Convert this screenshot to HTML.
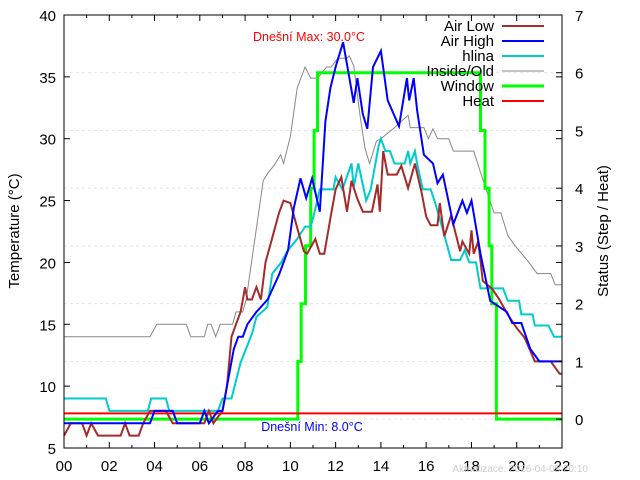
<!DOCTYPE html>
<html><head><meta charset="utf-8"><style>
body{margin:0;background:#fff}
svg{display:block;font-family:"Liberation Sans",sans-serif}
</style></head><body>
<svg id="chart" width="640" height="480" viewBox="0 0 640 480" xmlns="http://www.w3.org/2000/svg">
<rect width="640" height="480" fill="#fff"/>
<g id="grid"></g><g id="series"></g><g id="axes"></g><g id="legend"></g>
</svg>
<script>
// Data (hours, values)
const airLowT = [0,0.3,0.8,1.0,1.2,1.5,2.5,2.7,2.9,3.3,3.5,3.8,4.5,4.8,6.2,6.4,6.6,7.0,7.2,7.4,7.6,7.8,8.0,8.1,8.3,8.5,8.7,8.9,9.2,9.5,9.7,10.0,10.3,10.6,10.74,11.1,11.3,11.5,11.8,12.0,12.25,12.5,12.7,12.95,13.2,13.6,13.85,13.95,14.1,14.3,14.7,14.9,15.2,15.5,15.8,16.0,16.2,16.5,16.6,16.8,17.1,17.5,17.6,17.9,18.0,18.1,18.3,18.5,18.9,19.2,19.6,20.0,20.35,20.8,21.5,21.9,22];
const airLowV = [6,7,7,6,7,6,6,7,6,6,7,8,8,7,7,8,7,8,10,14,15,16,18,17,17,18,17,20,22,24,25,24.8,22.8,20.9,20.7,21.9,20.7,20.7,23.9,25.9,26.9,24.1,26.6,25.2,24.1,24.1,26.3,24.1,29,27.1,27.1,27.8,26,28,25.6,23.7,23,23,24.8,22.1,23.8,20.9,21.7,20.7,22.6,20.7,21.7,18.5,17.9,17.1,15.8,14.7,13.9,12,12,11,11];
const airHighT = [0,3.8,4.0,4.8,5.0,6.0,6.2,6.4,6.8,7.0,7.2,7.5,7.7,7.9,8.1,8.5,9.0,9.5,9.9,10.15,10.45,10.7,10.96,11.3,11.55,11.77,12.0,12.33,12.6,12.8,12.96,13.2,13.4,13.65,14.0,14.3,14.8,15.15,15.25,15.45,15.6,15.9,16.3,16.5,16.74,17.2,17.6,17.8,18.0,18.4,18.83,19.56,19.8,20.2,20.6,21.0,21.3,22];
const airHighV = [7,7,8,8,7,7,8,7,8,8,10,13,14,14,15,16,17,19,21,24.4,26.8,25.2,26.8,24.1,31.4,34.1,35.8,37.8,35,32.9,34.9,32,30.8,35.8,37.1,33.1,31,34.9,33.1,34.9,32.3,28.7,28,26.4,27.1,23.1,25,24,25,20.7,16.9,16,15.1,15.1,13,12,12,12];
const hlinaT = [0,1.85,2.0,3.7,3.85,4.5,4.65,6.8,7.0,7.4,7.8,8.32,8.5,8.98,9.2,9.6,9.86,10.3,10.65,10.9,11.05,11.3,11.9,12.0,12.3,12.7,12.8,13.0,13.35,13.55,13.9,14.0,14.2,14.4,14.6,15.05,15.2,15.3,15.5,15.6,15.85,16.2,16.4,16.7,17.1,17.5,17.7,17.9,18.2,18.4,19.4,19.6,20.1,20.2,20.7,20.8,21.4,21.65,22];
const hlinaV = [9,9,8,8,9,9,8,8,9,9,11.9,14.3,15.6,16.4,19.1,20,20.9,21.9,22.9,22.9,23.9,25.9,25.9,26.9,25.9,28,26.1,28,25,25.9,29.4,30,29,29,28,28,29,28,29,28,25.9,25.9,24.8,22.9,20.2,20.2,21,20,20,17.9,17.9,16.9,16.9,15.8,15.8,14.9,14.9,14,14];
const insideT = [0,3.8,4.1,5.4,5.6,6.2,6.35,6.5,6.7,6.9,7.45,7.6,7.9,8.05,8.8,9.0,9.3,9.57,9.7,10.0,10.3,10.65,10.9,11.2,11.6,11.8,12.1,12.5,12.6,12.8,13.1,13.3,13.5,13.8,14.0,14.6,15.2,15.3,15.9,16.1,16.3,16.5,17.0,17.2,18.1,18.5,19.0,19.3,19.6,19.9,20.5,20.9,21.5,21.7,22];
const insideV = [14,14,15,15,14,14,15,15,14,15,15,16,16,17,26.6,27.2,27.9,28.7,28,30.2,34.1,35.8,34.9,34.9,35.8,35.8,36.5,36.5,36.7,35.9,31.6,29.2,28,29.8,30,30.9,31.9,30.9,30.9,30,30.8,30,30,29,29,26.7,24,24,22.2,21.4,20.1,19.1,19.1,18.2,18.2];
const windowT = [0,10.33,10.48,10.67,10.9,11.05,11.2,18.4,18.6,18.78,18.9,19.1,22];
const windowV = [0,1,2,3,4,5,6,5,4,3,2,0,0];
const heatT = [0,22];
const heatV = [0.1,0.1];
const xTicks = ["00","02","04","06","08","10","12","14","16","18","20","22"];
const yTicks = [5,10,15,20,25,30,35,40];
const y2Ticks = [0,1,2,3,4,5,6,7];

const L=64,R=562,T=15,B=448,NS="http://www.w3.org/2000/svg";
const xs=h=>L+h/22*(R-L);
const ys=v=>B-(v-5)/35*(B-T);
const ys2=v=>B-(v+0.5)/7.5*(B-T);
function mk(tag,attrs,parent){const e=document.createElementNS(NS,tag);for(const k in attrs)e.setAttribute(k,attrs[k]);parent.appendChild(e);return e;}
const grid=document.getElementById('grid'),ser=document.getElementById('series'),ax=document.getElementById('axes'),lg=document.getElementById('legend');
y2Ticks.forEach(v=>{const l=mk('line',{x1:L,x2:R,y1:ys2(v),y2:ys2(v),stroke:'#ddd','stroke-width':0.8,'stroke-dasharray':'3,3'},grid);

});
function pts(tArr,vArr,f,isStep){const out=[];tArr.forEach((t,i)=>{if(isStep&&i>0)out.push(xs(t).toFixed(1)+','+f(vArr[i-1]).toFixed(1));out.push(xs(t).toFixed(1)+','+f(vArr[i]).toFixed(1));});return out.join(' ');}
function series(name,tArr,vArr,f,color,w,isStep){const p=mk('polyline',{points:pts(tArr,vArr,f,isStep),fill:'none',stroke:color,'stroke-width':w,'stroke-linejoin':'miter'},ser);

}
series('inside-old-line',insideT,insideV,ys,'#888',1,false);
series('window-line',windowT,windowV,ys2,'#00ff00',3,true);
series('heat-line',heatT,heatV,ys2,'#ff0000',2,true);
series('hlina-line',hlinaT,hlinaV,ys,'#00cccc',2,false);
series('air-low-line',airLowT,airLowV,ys,'#a52a2a',2,false);
series('air-high-line',airHighT,airHighV,ys,'#0000ff',2,false);
const fr=mk('rect',{x:L,y:T,width:R-L,height:B-T,fill:'none',stroke:'#000','stroke-width':1},ax);


for(let h=0;h<=22;h++){const len=h%2?3:6;mk('line',{x1:xs(h),x2:xs(h),y1:B,y2:B-len,stroke:'#000'},ax);mk('line',{x1:xs(h),x2:xs(h),y1:T,y2:T+len,stroke:'#000'},ax);}
xTicks.forEach((s,i)=>{const t=mk('text',{x:xs(i*2),y:471,'text-anchor':'middle','font-size':15},ax);t.textContent=s;

});
yTicks.forEach(v=>{mk('line',{x1:L,x2:L+6,y1:ys(v),y2:ys(v),stroke:'#000'},ax);mk('line',{x1:R,x2:R-6,y1:ys(v),y2:ys(v),stroke:'#000'},ax);
const t=mk('text',{x:56,y:ys(v)+6,'text-anchor':'end','font-size':15},ax);t.textContent=v;

});
y2Ticks.forEach(v=>{mk('line',{x1:R,x2:R-6,y1:ys2(v),y2:ys2(v),stroke:'#000'},ax);
const t=mk('text',{x:575,y:ys2(v)+6,'font-size':15},ax);t.textContent=v;

});
const leg=[["Air Low","#a52a2a",2],["Air High","#0000ff",2],["hlina","#00cccc",2],["Inside/Old","#888",1],["Window","#00ff00",3],["Heat","#ff0000",2]];
leg.forEach((e,i)=>{const y=26+i*15;const t=mk('text',{x:494,y:y+5,'text-anchor':'end','font-size':15},lg);t.textContent=e[0];


const l=mk('line',{x1:502,x2:544,y1:y,y2:y,stroke:e[1],'stroke-width':e[2]},lg);

});
</script>
<script>
(function(){const s=document.getElementById('chart');const NS="http://www.w3.org/2000/svg";
function tx(name,x,y,str,attrs){const t=document.createElementNS(NS,'text');t.setAttribute('x',x);t.setAttribute('y',y);for(const k in attrs)t.setAttribute(k,attrs[k]);t.textContent=str;


s.appendChild(t);}
tx('max-annotation',309,41,'Dnešní Max: 30.0°C',{fill:'#ff0000','font-size':12.5,'text-anchor':'middle'});
tx('min-annotation',312,431,'Dnešní Min: 8.0°C',{fill:'#0000ff','font-size':12.5,'text-anchor':'middle'});
tx('update-timestamp',588,472,'Aktualizace: 2026-04-05 20:10',{fill:'#ccc','font-size':10,'text-anchor':'end'});
tx('y-axis-title',0,0,'Temperature (°C)',{'font-size':15,'text-anchor':'middle',transform:'translate(19,231) rotate(-90)'});
tx('y2-axis-title',0,0,'Status (Step / Heat)',{'font-size':15,'text-anchor':'middle',transform:'translate(608,231) rotate(-90)'});
})();
</script>
</body></html>
